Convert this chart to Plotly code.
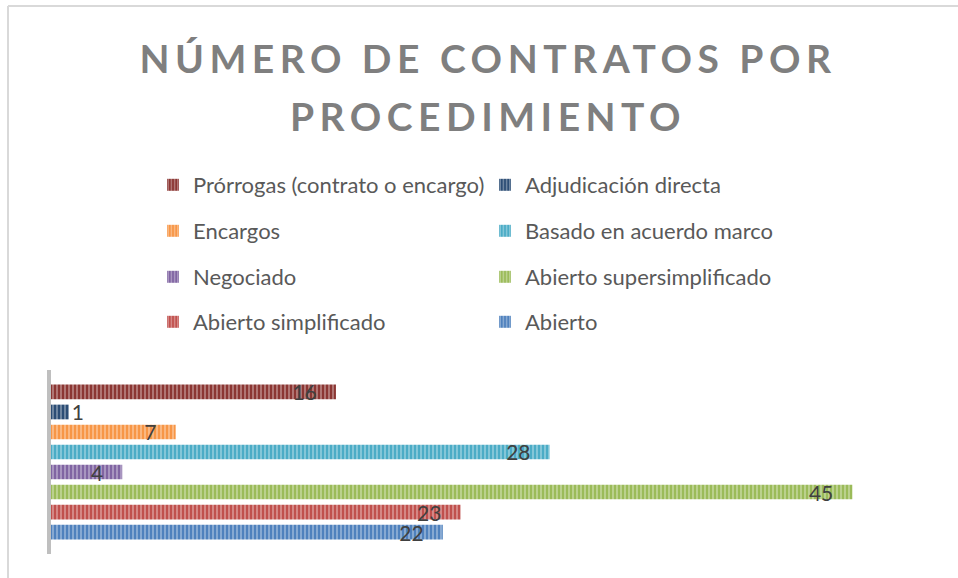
import plotly.graph_objects as go

# ---- data ----
category = ["Contratos"]
series = [
    "Abierto",
    "Abierto simplificado",
    "Abierto supersimplificado",
    "Negociado",
    "Basado en acuerdo marco",
    "Encargos",
    "Adjudicación directa",
    "Prórrogas (contrato o encargo)",
]
values = [22, 23, 45, 4, 28, 7, 1, 16]
title_text = "NÚMERO DE CONTRATOS POR<br>PROCEDIMIENTO"

# ---- styles ----
colors = ["#4f81bd", "#c0504d", "#9bbb59", "#8064a2",
          "#4bacc6", "#f79646", "#2c4d75", "#8b3633"]
legend_ids = ["legend4", "legend4", "legend3", "legend3",
              "legend2", "legend2", "legend", "legend"]
PAD = "\u00a0\u00a0\u00a0"

fig = go.Figure()
for name, v, c, lg in zip(series, values, colors, legend_ids):
    inside = v >= 2
    fig.add_trace(go.Bar(
        y=category, x=[v], name=name, orientation="h",
        legend=lg,
        marker=dict(color=c, line=dict(width=0),
                    pattern=dict(shape="|", size=4, solidity=0.35,
                                 fgcolor="white", fgopacity=0.45)),
        texttemplate="%{x}" + (PAD if inside else ""),
        textposition="inside" if inside else "outside",
        insidetextanchor="end",
        textangle=0,
        constraintext="none",
        cliponaxis=False,
        textfont=dict(family="Lato", size=21, color="#404040"),
        insidetextfont=dict(family="Lato", size=21, color="#404040"),
        outsidetextfont=dict(family="Lato", size=21, color="#404040"),
        hoverinfo="name+x",
    ))

W, H = 958, 578
ML, MR, MT, MB = 51, 70, 370, 24
pw = W - ML - MR
ph = H - MT - MB


def px_to_paper_x(px):
    return (px - ML) / pw


def px_to_paper_y(py):
    return (H - MB - py) / ph


legend_common = dict(orientation="h", xref="container", yref="container",
                     xanchor="left", yanchor="middle", entrywidth=287,
                     traceorder="reversed", itemwidth=30,
                     bgcolor="rgba(0,0,0,0)",
                     font=dict(family="Lato", size=22, color="#595959"))
rows_y = [185, 231, 277, 322]
LX = 153

TITLE_SIZE = 39
LINE_K = 58 / (1.3 * TITLE_SIZE)

fig.update_layout(
    width=W, height=H,
    margin=dict(l=ML, r=MR, t=MT, b=MB, pad=0, autoexpand=False),
    paper_bgcolor="white", plot_bgcolor="white",
    barmode="group", bargap=0.13, bargroupgap=0.265,
    title=dict(text=title_text, x=488 / W, xanchor="center",
               y=1 - 73 / H, yanchor="top", yref="container",
               automargin=False,
               font=dict(family="Lato", size=TITLE_SIZE, color="#7f7f7f",
                         weight="bold")),
    xaxis=dict(visible=False, range=[0, 47]),
    yaxis=dict(showline=True, linecolor="#bfbfbf", linewidth=4,
               showticklabels=False, showgrid=False, zeroline=False,
               ticks=""),
    legend=dict(legend_common, x=LX / W, y=1 - rows_y[0] / H),
    legend2=dict(legend_common, x=LX / W, y=1 - rows_y[1] / H),
    legend3=dict(legend_common, x=LX / W, y=1 - rows_y[2] / H),
    legend4=dict(legend_common, x=LX / W, y=1 - rows_y[3] / H),
    showlegend=True,
    shapes=[
        dict(type="line", xref="paper", yref="paper",
             x0=px_to_paper_x(8), x1=px_to_paper_x(8),
             y0=px_to_paper_y(6), y1=px_to_paper_y(H + 5),
             line=dict(color="#d9d9d9", width=2)),
        dict(type="line", xref="paper", yref="paper",
             x0=px_to_paper_x(8), x1=px_to_paper_x(W + 5),
             y0=px_to_paper_y(6), y1=px_to_paper_y(6),
             line=dict(color="#d9d9d9", width=2)),
    ],
)

post = """
document.body.style.margin = '0';
document.querySelectorAll('.gtitle').forEach(function (t) {
  t.style.letterSpacing = '5.5px';
  var ls = t.querySelectorAll('tspan.line');
  for (var i = 1; i < ls.length; i++) {
    var dy = ls[i].getAttribute('dy');
    if (dy && dy.indexOf('em') > 0) {
      ls[i].setAttribute('dy', (parseFloat(dy) * %f) + 'em');
    }
  }
});
""" % LINE_K

fig.write_html("out.html", post_script=post,
               config={"displayModeBar": False})
